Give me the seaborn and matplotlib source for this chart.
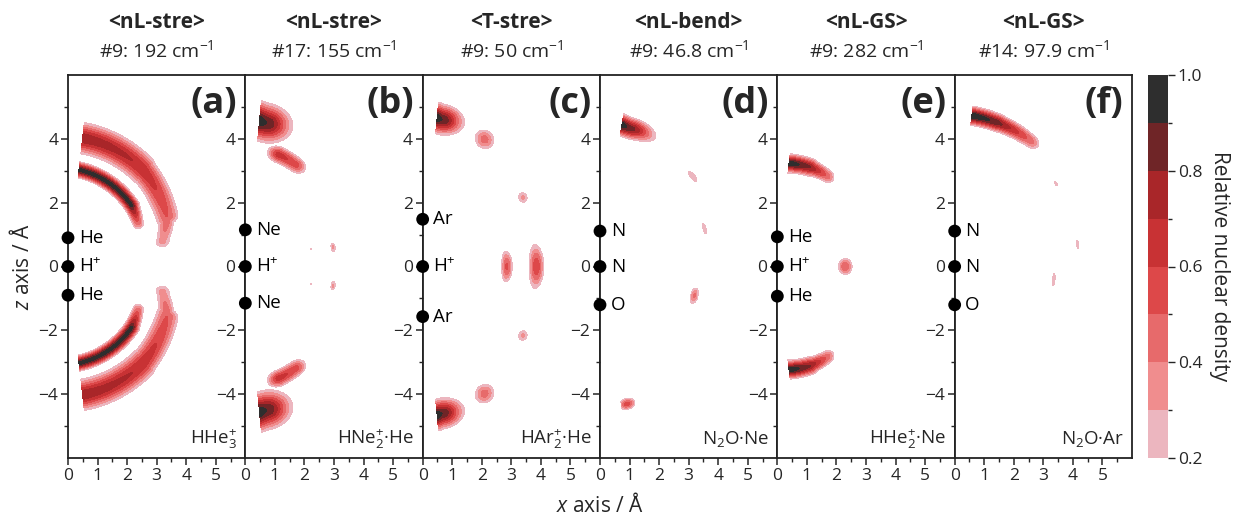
import numpy as np
import matplotlib
matplotlib.use("Agg")
import matplotlib.pyplot as plt
from matplotlib.ticker import FixedLocator
from matplotlib.colors import ListedColormap, BoundaryNorm
import seaborn as sns

# ---------------- data ----------------
modes = ["<nL-stre>", "<nL-stre>", "<T-stre>", "<nL-bend>", "<nL-GS>", "<nL-GS>"]
freqs = ["#9: 192 cm$^{-1}$", "#17: 155 cm$^{-1}$", "#9: 50 cm$^{-1}$",
         "#9: 46.8 cm$^{-1}$", "#9: 282 cm$^{-1}$", "#14: 97.9 cm$^{-1}$"]
panel_tags = ["(a)", "(b)", "(c)", "(d)", "(e)", "(f)"]
molecules = ["HHe$_3^{+}$", "HNe$_2^{+}$·He", "HAr$_2^{+}$·He",
             "N$_2$O·Ne", "HHe$_2^{+}$·Ne", "N$_2$O·Ar"]

atom_labels = [["He", "H$^{+}$", "He"], ["Ne", "H$^{+}$", "Ne"], ["Ar", "H$^{+}$", "Ar"],
               ["N", "N", "O"], ["He", "H$^{+}$", "He"], ["N", "N", "O"]]
atom_z = [[0.9, 0.0, -0.9], [1.15, 0.0, -1.15], [1.48, 0.0, -1.57],
          [1.11, 0.0, -1.2], [0.93, 0.0, -0.93], [1.11, 0.0, -1.2]]

# density features, as arc segments in polar coordinates
# (theta in degrees from +z axis, r in Å); a single blob has t0 == t1
seg_t0 = [[7, 48, 7, 40, 65],
          [5, 18, 78.5, 76],
          [5, 27.7, 57.5, 90, 90],
          [9, 48, 71.5, 106, 168],
          [6, 20, 90],
          [7, 18, 53, 80.5, 97]]
seg_t1 = [[48, 60, 40, 65, 76],
          [9, 28, 78.5, 76],
          [8, 27.7, 57.5, 90, 90],
          [13, 48, 71.5, 106, 168],
          [20, 31, 90],
          [18, 33, 53, 80.5, 97]]
seg_r0 = [[3.05, 2.88, 4.05, 3.95, 3.7],
          [4.6, 3.68, 3.03, 2.3],
          [4.7, 4.5, 4.02, 2.85, 3.85],
          [4.5, 4.22, 3.73, 3.32, 4.4],
          [3.25, 3.3, 2.3],
          [4.76, 4.73, 4.3, 4.22, 3.38]]
seg_r1 = [[2.88, 2.74, 3.95, 3.7, 3.3],
          [4.55, 3.62, 3.03, 2.3],
          [4.65, 4.5, 4.02, 2.85, 3.85],
          [4.45, 4.22, 3.73, 3.32, 4.4],
          [3.3, 3.3, 2.3],
          [4.73, 4.7, 4.3, 4.22, 3.38]]
seg_a0 = [[0.94, 0.93, 0.78, 0.68, 0.5],
          [1.0, 0.65, 0.32, 0.22],
          [1.0, 0.45, 0.32, 0.52, 0.58],
          [1.0, 0.3, 0.28, 0.42, 0.55],
          [1.0, 0.8, 0.5],
          [1.0, 0.85, 0.25, 0.26, 0.28]]
seg_a1 = [[0.93, 0.45, 0.68, 0.5, 0.33],
          [0.9, 0.55, 0.32, 0.22],
          [0.9, 0.45, 0.32, 0.52, 0.58],
          [0.85, 0.3, 0.28, 0.42, 0.55],
          [0.8, 0.45, 0.5],
          [0.85, 0.45, 0.25, 0.26, 0.28]]
seg_sr = [[0.145, 0.145, 0.3, 0.28, 0.22],
          [0.36, 0.17, 0.07, 0.04],
          [0.28, 0.22, 0.14, 0.13, 0.17],
          [0.2, 0.08, 0.06, 0.1, 0.12],
          [0.17, 0.15, 0.17],
          [0.17, 0.16, 0.05, 0.05, 0.05]]
seg_fade = [[4, 3, 3, 3, 3],
            [6.5, 4, 2.5, 1.2],
            [5.5, 3.2, 2.2, 7, 7],
            [7, 3, 3, 3.5, 2.5],
            [3, 3, 4.5],
            [3, 3, 1.5, 2.5, 4]]
mirrored = [True, True, True, False, True, False]
theta_min = [7, 6, 6, 9.5, 7, 7]

levels = [0.2, 0.3, 0.4, 0.5, 0.6, 0.7, 0.8, 0.9, 1.0]
band_colors = ["#ecb6bf", "#f08d8e", "#e76a6b", "#dd4849", "#c83234",
               "#a92629", "#6f2527", "#2e2e2e"]

# ---------------- style ----------------
sns.set_theme(style="ticks")
plt.rcParams["font.family"] = ["Open Sans", "DejaVu Sans"]
plt.rcParams["mathtext.fontset"] = "custom"
plt.rcParams["mathtext.rm"] = "Open Sans"
plt.rcParams["mathtext.it"] = "Open Sans:italic"
plt.rcParams["mathtext.bf"] = "Open Sans:bold"
plt.rcParams["axes.edgecolor"] = "#222222"
plt.rcParams["axes.linewidth"] = 1.3

W, H = 1235, 518
fig = plt.figure(figsize=(W / 100, H / 100), dpi=100)
cmap = ListedColormap(band_colors)
norm = BoundaryNorm(levels, cmap.N)

left_px, top_px, bot_px = 68, 75, 458
pw = (1132 - 68) / 6.0

for i in range(6):
    ax = fig.add_axes([(left_px + i * pw) / W, (H - bot_px) / H, pw / W, (bot_px - top_px) / H])
    tmin = theta_min[i]
    r = np.linspace(0.01, 6.0, 360)
    th = np.linspace(tmin, 180 - tmin, 600)
    R, TH = np.meshgrid(r, th)
    D = np.zeros_like(R)
    for k in range(len(seg_t0[i])):
        t0, t1 = seg_t0[i][k], seg_t1[i][k]
        pairs = [(t0, t1), (180 - t0, 180 - t1)] if mirrored[i] else [(t0, t1)]
        for a_t0, a_t1 in pairs:
            lo, hi = min(a_t0, a_t1), max(a_t0, a_t1)
            tc = np.clip(TH, lo, hi)
            frac = (tc - a_t0) / (a_t1 - a_t0) if a_t1 != a_t0 else np.zeros_like(TH)
            rc = seg_r0[i][k] + frac * (seg_r1[i][k] - seg_r0[i][k])
            amp = seg_a0[i][k] + frac * (seg_a1[i][k] - seg_a0[i][k])
            g = amp * np.exp(-0.5 * ((R - rc) / seg_sr[i][k]) ** 2
                             - 0.5 * ((TH - tc) / seg_fade[i][k]) ** 2)
            D = np.maximum(D, g)
    D = np.clip(D, 0, 0.9999)
    X = R * np.sin(np.radians(TH))
    Z = R * np.cos(np.radians(TH))
    cs = ax.contourf(X, Z, D, levels=levels, cmap=cmap, norm=norm)

    sns.scatterplot(x=[0.0] * len(atom_z[i]), y=atom_z[i], ax=ax, color="black", s=85,
                    edgecolor="none", clip_on=False, zorder=5, legend=False)
    for lab, z in zip(atom_labels[i], atom_z[i]):
        ax.text(0.36, z, lab, ha="left", va="center", fontsize=13.5, color="black")

    ax.text(5.72, 5.1, panel_tags[i], ha="right", va="center", fontsize=26, fontweight="bold")
    ax.text(5.72, -5.55, molecules[i], ha="right", va="baseline", fontsize=13.5)

    ax.set_xlim(0, 6)
    ax.set_ylim(-6, 6)
    ax.set_xlabel("")
    ax.set_ylabel("")
    ax.xaxis.set_major_locator(FixedLocator([0, 1, 2, 3, 4, 5]))
    ax.xaxis.set_minor_locator(FixedLocator([0.5, 1.5, 2.5, 3.5, 4.5, 5.5]))
    ax.yaxis.set_major_locator(FixedLocator([-4, -2, 0, 2, 4]))
    ax.yaxis.set_minor_locator(FixedLocator([-5, -3, -1, 1, 3, 5]))
    ax.tick_params(which="major", direction="out", length=5, width=1.1, labelsize=12.5, pad=2)
    ax.tick_params(which="minor", direction="out", length=3, width=1.0)
    for s in ax.spines.values():
        s.set_visible(True)

    ax.text(0.5, 1 + (75 - 22) / 383, modes[i], transform=ax.transAxes, ha="center",
            va="center", fontsize=15, fontweight="bold")
    ax.text(0.5, 1 + (75 - 50) / 383, freqs[i], transform=ax.transAxes, ha="center",
            va="center", fontsize=14)

cax = fig.add_axes([1148 / W, (H - bot_px) / H, 20 / W, (bot_px - top_px) / H])
cb = fig.colorbar(cs, cax=cax, ticks=[0.2, 0.4, 0.6, 0.8, 1.0])
cb.ax.yaxis.set_minor_locator(FixedLocator([0.3, 0.5, 0.7, 0.9]))
cb.ax.tick_params(which="major", length=5, width=1.0, labelsize=12.5, pad=2)
cb.ax.tick_params(which="minor", length=3, width=1.0)
cb.outline.set_visible(False)
cb.set_label("Relative nuclear density", rotation=270, labelpad=20, fontsize=15)
cb.ax.set_yticklabels(["0.2", "0.4", "0.6", "0.8", "1.0"])

fig.text((left_px + 3 * pw) / W, 1 - 505 / H, "$\\mathit{x}$ axis / Å", ha="center",
         va="center", fontsize=15)
fig.text(22 / W, 1 - 267 / H, "$\\mathit{z}$ axis / Å", ha="center", va="center",
         fontsize=15, rotation=90)

fig.savefig("out.png", dpi=100)
